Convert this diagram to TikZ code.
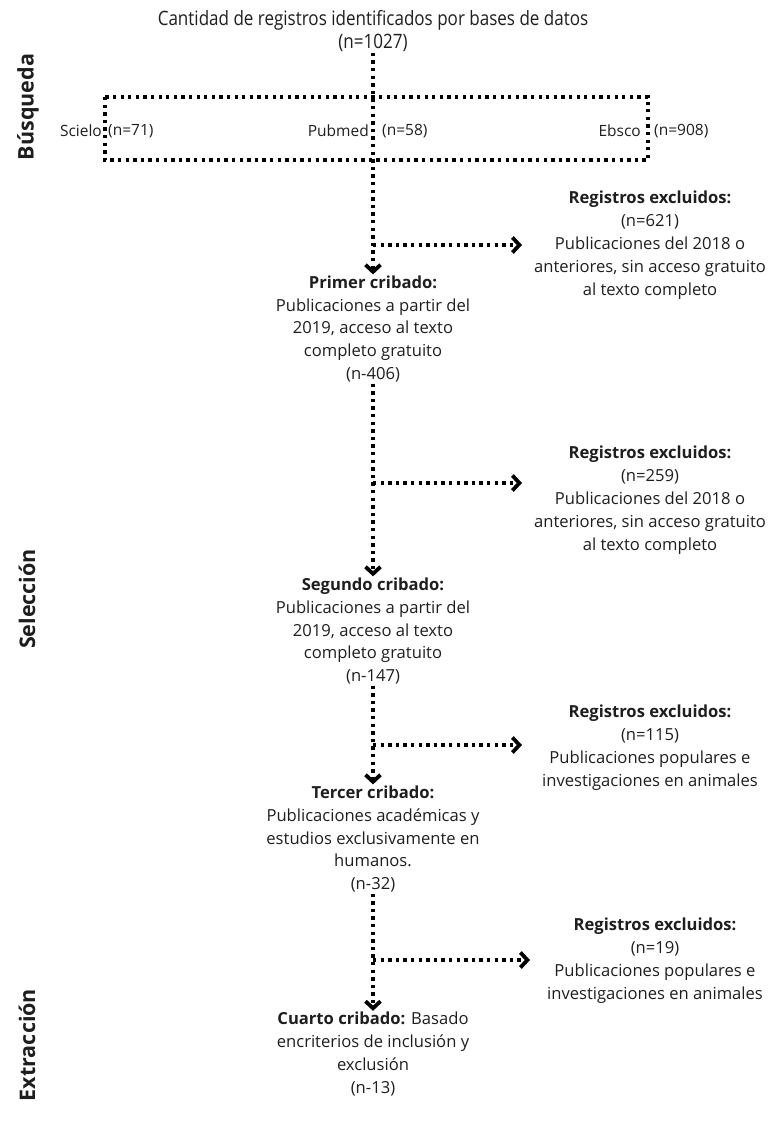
\documentclass[tikz,border=0pt]{standalone}
\usepackage{fontspec}
\setmainfont{Open Sans}
\newfontfamily\narrowfont{Open Sans}[FakeStretch=0.86]
\usepackage{tikz}
\usetikzlibrary{arrows.meta,calc,positioning}
\definecolor{Ink}{HTML}{1E1E1E}

\begin{document}
\begin{tikzpicture}[
      x=1pt,y=-1pt,
      every node/.style={text=Ink},
      stage/.style={align=center,inner sep=1pt,font=\fontsize{16.6}{22.9}\selectfont},
      source/.style={inner sep=0pt,font=\fontsize{15.5}{19}\selectfont},
      phase/.style={rotate=90,font=\bfseries\fontsize{21.5}{24}\selectfont},
      dotline/.style={line width=3.3pt,dash pattern=on 3.3pt off 4.3pt,color=black},
      arrow/.style={dotline,-{Straight Barb[length=7pt,width=15pt,line width=3.8pt]}}
    ]
      \useasboundingbox (0,0) rectangle (769,1124);
      % search
      \node[stage,font=\narrowfont\fontsize{19.8}{23}\selectfont] (total) at (373,31)
        {Cantidad de registros identificados por bases de datos\\(n=1027)};
      \draw[dotline] (105,97) rectangle (648,160);
      \node[source,anchor=east] (scielo) at (102,131) {Scielo};
      \node[source,anchor=west] (scielon) at (108,131) {(n=71)};
      \node[source,anchor=east] (pubmed) at (369,131) {Pubmed};
      \node[source,anchor=west] (pubmedn) at (382,131) {(n=58)};
      \node[source,anchor=east] (ebsco) at (641,131) {Ebsco};
      \node[source,anchor=west] (ebscon) at (654,131) {(n=908)};
      % screenings
      \node[stage] (primer) at (373,329) {\textbf{Primer cribado:}\\Publicaciones a partir del\\2019, acceso al texto\\completo gratuito\\(n-406)};
      \node[stage] (segundo) at (373,631) {\textbf{Segundo cribado:}\\Publicaciones a partir del\\2019, acceso al texto\\completo gratuito\\(n-147)};
      \node[stage] (tercer) at (373,839) {\textbf{Tercer cribado:}\\Publicaciones académicas y\\estudios exclusivamente en\\humanos.\\(n-32)};
      \node[stage] (cuarto) at (373,1054) {\textbf{Cuarto cribado:} Basado\\encriterios de inclusión y\\exclusión\\(n-13)};
      % excluded records
      \node[stage] (excl1) at (650,245) {\textbf{Registros excluidos:}\\(n=621)\\Publicaciones del 2018 o\\anteriores, sin acceso gratuito\\al texto completo};
      \node[stage] (excl2) at (650,500) {\textbf{Registros excluidos:}\\(n=259)\\Publicaciones del 2018 o\\anteriores, sin acceso gratuito\\al texto completo};
      \node[stage] (excl3) at (650,748) {\textbf{Registros excluidos:}\\(n=115)\\Publicaciones populares e\\investigaciones en animales};
      \node[stage] (excl4) at (655,961) {\textbf{Registros excluidos:}\\(n=19)\\Publicaciones populares e\\investigaciones en animales};
      % phases
      \node[phase] (busqueda) at (28,107) {Búsqueda};
      \node[phase] (seleccion) at (27,599) {Selección};
      \node[phase] (extraccion) at (27,1045) {Extracción};
      % flow
      \draw[arrow] (total) -- (primer);
      \draw[arrow] (primer) -- (segundo);
      \draw[arrow] (segundo) -- (tercer);
      \draw[arrow] (tercer) -- (cuarto);
      \coordinate (b1) at (373,245);
      \coordinate (b2) at (373,483);
      \coordinate (b3) at (373,745);
      \coordinate (b4) at (373,960);
      \draw[arrow] (b1) -- (b1 -| 522,0);
      \draw[arrow] (b2) -- (b2 -| 522,0);
      \draw[arrow] (b3) -- (b3 -| 522,0);
      \draw[arrow] (b4) -- (b4 -| 530,0);
    \end{tikzpicture}
\end{document}
